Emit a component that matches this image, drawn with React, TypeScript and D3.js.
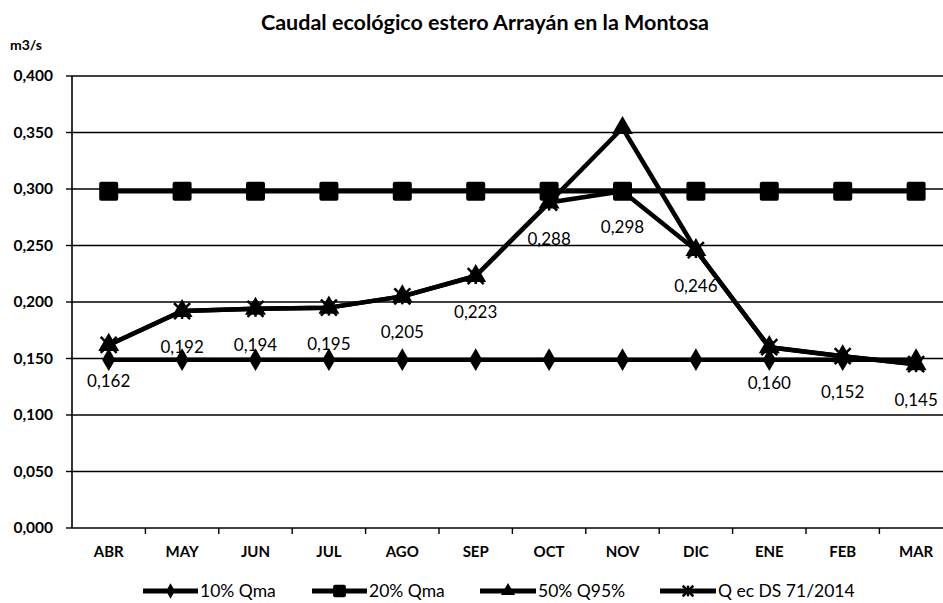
import React from "react";
import * as d3 from "d3";

const months = ["ABR", "MAY", "JUN", "JUL", "AGO", "SEP", "OCT", "NOV", "DIC", "ENE", "FEB", "MAR"];
const qma10 = [0.149, 0.149, 0.149, 0.149, 0.149, 0.149, 0.149, 0.149, 0.149, 0.149, 0.149, 0.149];
const qma20 = [0.298, 0.298, 0.298, 0.298, 0.298, 0.298, 0.298, 0.298, 0.298, 0.298, 0.298, 0.298];
const q95 = [0.162, 0.192, 0.194, 0.195, 0.205, 0.223, 0.288, 0.354, 0.246, 0.16, 0.152, 0.145];
const qec = [0.162, 0.192, 0.194, 0.195, 0.205, 0.223, 0.288, 0.298, 0.246, 0.16, 0.152, 0.145];
const yTicks = [0, 0.05, 0.1, 0.15, 0.2, 0.25, 0.3, 0.35, 0.4];
const legendNames = ["10% Qma", "20% Qma", "50% Q95%", "Q ec DS 71/2014"];

const W = 943;
const H = 603;
const FONT = "Lato, 'Open Sans', sans-serif";

const fmt = (v: number) => v.toFixed(3).replace(".", ",");

function Marker({ kind, x, y, s = 1 }: { kind: string; x: number; y: number; s?: number }) {
  if (kind === "diamond") {
    const p = d3.symbol().type(d3.symbolDiamond).size(150 * s)();
    return <path d={p || ""} transform={`translate(${x},${y})`} fill="#000" />;
  }
  if (kind === "square") {
    const a = 19 * Math.sqrt(s);
    return <rect x={x - a / 2} y={y - a / 2} width={a} height={a} rx={2} fill="#000" />;
  }
  if (kind === "triangle") {
    const p = d3.symbol().type(d3.symbolTriangle).size(190 * s)();
    return <path d={p || ""} transform={`translate(${x},${y})`} fill="#000" />;
  }
  const r = 8 * Math.sqrt(s);
  return (
    <g transform={`translate(${x},${y})`} stroke="#000" strokeWidth={2.5}>
      <line x1={-r} y1={-r} x2={r} y2={r} />
      <line x1={-r} y1={r} x2={r} y2={-r} />
      <line x1={0} y1={-r} x2={0} y2={r} />
    </g>
  );
}

export default function App() {
  const x0 = 72;
  const band = 73.4;
  const x = d3.scaleBand<string>().domain(months).range([x0, x0 + band * months.length]);
  const y = d3.scaleLinear().domain([0, 0.4]).range([528, 76]);
  const cx = (m: string) => (x(m) as number) + x.bandwidth() / 2;
  const line = d3
    .line<number>()
    .x((_, i) => cx(months[i]))
    .y((d) => y(d));

  const series = [
    { data: qma10, kind: "diamond" },
    { data: qma20, kind: "square" },
    { data: q95, kind: "triangle" },
    { data: qec, kind: "star" },
  ];

  const legendY = 591;
  const legendItems = [
    { x1: 143, x2: 198, tx: 200, kind: "diamond" },
    { x1: 312, x2: 367, tx: 369, kind: "square" },
    { x1: 480, x2: 536, tx: 538, kind: "triangle" },
    { x1: 660, x2: 716, tx: 718, kind: "star" },
  ];

  return (
    <svg width={W} height={H} style={{ display: "block", position: "absolute", left: 0, top: 0, background: "#fff" }} fontFamily={FONT}>
      <rect width={W} height={H} fill="#fff" />
      <text x={485} y={30} textAnchor="middle" fontSize={21.5} fontWeight="bold">
        Caudal ecológico estero Arrayán en la Montosa
      </text>
      <text x={10} y={50} fontSize={14} fontWeight="bold">
        m3/s
      </text>
      {yTicks.map((t) => (
        <g key={t}>
          <line x1={x0} x2={x0 + band * 12} y1={y(t)} y2={y(t)} stroke="#000" strokeWidth={t === 0 ? 1.6 : 1.4} />
          <line x1={66} x2={x0} y1={y(t)} y2={y(t)} stroke="#000" strokeWidth={1.4} />
          <text x={53} y={y(t)} dy="0.35em" textAnchor="end" fontSize={15.5} fontWeight="bold">
            {fmt(t)}
          </text>
        </g>
      ))}
      <line x1={x0} x2={x0} y1={y(0.4)} y2={y(0)} stroke="#000" strokeWidth={1.6} />
      {months.map((m) => (
        <g key={m}>
          <line x1={(x(m) as number) + band} x2={(x(m) as number) + band} y1={y(0)} y2={y(0) + 6} stroke="#000" strokeWidth={1.4} />
          <text x={cx(m)} y={552} dy="0.35em" textAnchor="middle" fontSize={15} fontWeight="bold">
            {m}
          </text>
        </g>
      ))}
      {series.map((s, k) => (
        <g key={k}>
          <path d={line(s.data) || ""} fill="none" stroke="#000" strokeWidth={4.5} strokeLinejoin="round" />
          {s.data.map((v, i) => (
            <Marker key={i} kind={s.kind} x={cx(months[i])} y={y(v)} />
          ))}
        </g>
      ))}
      {qec.map((v, i) => (
        <text key={i} x={cx(months[i])} y={y(v) + 36} dy="0.35em" textAnchor="middle" fontSize={17}>
          {fmt(v)}
        </text>
      ))}
      {legendItems.map((l, k) => (
        <g key={k}>
          <line x1={l.x1} x2={l.x2} y1={legendY} y2={legendY} stroke="#000" strokeWidth={5} />
          <Marker kind={l.kind} x={(l.x1 + l.x2) / 2} y={legendY} s={0.45} />
          <text x={l.tx} y={legendY} dy="0.35em" fontSize={17.5}>
            {legendNames[k]}
          </text>
        </g>
      ))}
    </svg>
  );
}
